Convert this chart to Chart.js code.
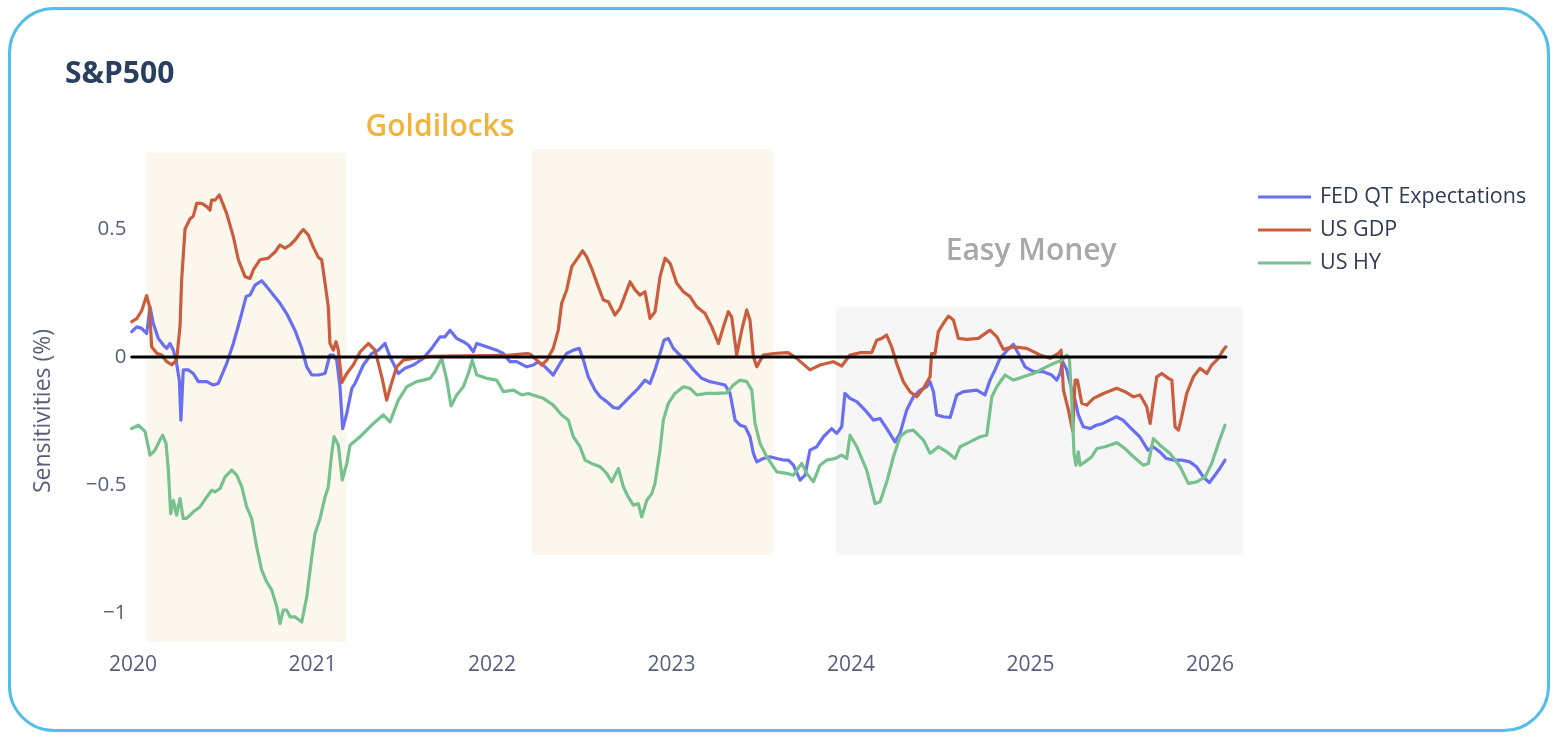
<!DOCTYPE html>
<html><head><meta charset="utf-8">
<script src="https://cdn.jsdelivr.net/npm/chart.js@4.4.1/dist/chart.umd.min.js"></script>
<style>
html,body{margin:0;padding:0;background:#fff;}
#wrap{position:relative;width:1558px;height:742px;overflow:hidden;background:#fff;}
#frame{position:absolute;left:8px;top:7px;width:1536px;height:719px;border:3px solid #56bde6;border-radius:46px;pointer-events:none;}
canvas{position:absolute;left:0;top:0;}
</style></head><body>
<div id="wrap"><canvas id="c" width="1558" height="742"></canvas><div id="frame"></div></div>
<script>
// ---- data (decimal years, sensitivities) ----
const seriesNames = ['FED QT Expectations', 'US GDP', 'US HY'];
const xTickValues = [2020, 2021, 2022, 2023, 2024, 2025, 2026];
const yTickValues = [-1, -0.5, 0, 0.5];

const qtDates = [2019.993,2020.021,2020.048,2020.076,2020.095,2020.113,2020.141,2020.169,2020.188,2020.206,
2020.225,2020.243,2020.258,2020.267,2020.280,2020.308,2020.336,2020.364,2020.411,2020.447,
2020.475,2020.503,2020.522,2020.559,2020.596,2020.630,2020.652,2020.680,2020.717,2020.745,
2020.782,2020.819,2020.856,2020.902,2020.940,2020.968,2020.996,2021.032,2021.070,2021.097,
2021.116,2021.135,2021.153,2021.168,2021.191,2021.219,2021.237,2021.283,2021.330,2021.367,
2021.404,2021.432,2021.478,2021.515,2021.562,2021.617,2021.664,2021.710,2021.738,2021.766,
2021.803,2021.840,2021.868,2021.896,2021.915,2021.970,2022.026,2022.063,2022.100,2022.138,
2022.193,2022.230,2022.258,2022.295,2022.341,2022.379,2022.416,2022.453,2022.486,2022.509,
2022.536,2022.574,2022.602,2022.639,2022.676,2022.704,2022.741,2022.778,2022.815,2022.852,
2022.880,2022.908,2022.936,2022.958,2022.982,2023.010,2023.047,2023.085,2023.122,2023.168,
2023.214,2023.261,2023.298,2023.326,2023.354,2023.382,2023.410,2023.437,2023.456,2023.475,
2023.511,2023.549,2023.586,2023.623,2023.651,2023.679,2023.716,2023.744,2023.771,2023.809,
2023.846,2023.892,2023.920,2023.948,2023.966,2023.994,2024.032,2024.078,2024.124,2024.162,
2024.199,2024.245,2024.273,2024.310,2024.347,2024.384,2024.421,2024.440,2024.459,2024.477,
2024.514,2024.552,2024.589,2024.626,2024.700,2024.746,2024.774,2024.802,2024.830,2024.867,
2024.904,2024.932,2024.969,2025.016,2025.071,2025.118,2025.146,2025.164,2025.179,2025.202,
2025.220,2025.248,2025.266,2025.294,2025.331,2025.366,2025.403,2025.440,2025.478,2025.515,
2025.561,2025.608,2025.654,2025.682,2025.720,2025.757,2025.794,2025.841,2025.887,2025.924,
2025.962,2025.996,2026.027,2026.054,2026.083];
const qtValues = [0.099,0.118,0.112,0.092,0.196,0.131,0.073,0.047,0.034,0.053,
0.027,-0.025,-0.09,-0.246,-0.05,-0.05,-0.064,-0.096,-0.096,-0.109,
-0.103,-0.057,-0.025,0.053,0.145,0.236,0.242,0.281,0.298,0.275,
0.242,0.21,0.17,0.105,0.034,-0.038,-0.07,-0.07,-0.064,0.008,
0.008,-0.012,-0.116,-0.279,-0.22,-0.122,-0.103,-0.031,0.014,0.027,
0.053,0.001,-0.064,-0.044,-0.031,-0.005,0.034,0.079,0.079,0.105,
0.073,0.06,0.047,0.021,0.053,0.04,0.027,0.014,-0.018,-0.018,
-0.038,-0.031,-0.018,-0.038,-0.07,-0.025,0.014,0.027,0.034,-0.012,
-0.077,-0.129,-0.155,-0.174,-0.197,-0.20,-0.174,-0.148,-0.122,-0.09,
-0.103,-0.05,0.014,0.066,0.073,0.034,0.008,-0.018,-0.05,-0.083,
-0.096,-0.103,-0.109,-0.142,-0.246,-0.266,-0.272,-0.311,-0.376,-0.409,
-0.396,-0.389,-0.396,-0.402,-0.402,-0.422,-0.48,-0.461,-0.363,-0.35,
-0.311,-0.279,-0.298,-0.272,-0.142,-0.161,-0.174,-0.207,-0.246,-0.24,
-0.279,-0.331,-0.298,-0.207,-0.155,-0.129,-0.116,-0.096,-0.135,-0.226,
-0.233,-0.236,-0.148,-0.135,-0.129,-0.148,-0.09,-0.05,-0.005,0.024,
0.05,0.014,-0.038,-0.057,-0.057,-0.07,-0.09,-0.064,-0.018,-0.05,
-0.103,-0.168,-0.226,-0.272,-0.279,-0.266,-0.259,-0.246,-0.233,-0.246,
-0.279,-0.311,-0.363,-0.35,-0.37,-0.396,-0.402,-0.402,-0.409,-0.428,
-0.468,-0.49,-0.461,-0.435,-0.402];

const gdpDates = [2019.993,2020.021,2020.048,2020.076,2020.091,2020.104,2020.132,2020.160,2020.188,2020.216,
2020.243,2020.262,2020.271,2020.290,2020.318,2020.336,2020.355,2020.383,2020.411,2020.429,
2020.438,2020.457,2020.481,2020.503,2020.522,2020.559,2020.587,2020.624,2020.652,2020.670,
2020.708,2020.754,2020.791,2020.819,2020.847,2020.875,2020.903,2020.930,2020.949,2020.977,
2021.004,2021.032,2021.051,2021.070,2021.088,2021.097,2021.116,2021.131,2021.144,2021.163,
2021.191,2021.227,2021.265,2021.311,2021.348,2021.386,2021.413,2021.441,2021.469,2021.506,
2021.562,2021.655,2021.822,2021.989,2022.100,2022.193,2022.212,2022.249,2022.277,2022.305,
2022.341,2022.369,2022.388,2022.416,2022.444,2022.481,2022.505,2022.528,2022.555,2022.592,
2022.620,2022.648,2022.685,2022.713,2022.741,2022.769,2022.797,2022.824,2022.852,2022.880,
2022.908,2022.936,2022.964,2022.992,2023.029,2023.066,2023.103,2023.140,2023.187,2023.224,
2023.261,2023.289,2023.316,2023.335,2023.363,2023.391,2023.419,2023.437,2023.456,2023.475,
2023.511,2023.567,2023.651,2023.697,2023.771,2023.827,2023.901,2023.948,2023.994,2024.050,
2024.115,2024.143,2024.171,2024.198,2024.226,2024.254,2024.291,2024.328,2024.366,2024.403,
2024.440,2024.449,2024.468,2024.486,2024.514,2024.542,2024.570,2024.598,2024.644,2024.709,
2024.774,2024.812,2024.848,2024.904,2024.979,2025.053,2025.109,2025.155,2025.170,2025.183,
2025.211,2025.235,2025.248,2025.261,2025.285,2025.313,2025.350,2025.406,2025.480,2025.526,
2025.573,2025.610,2025.647,2025.666,2025.684,2025.703,2025.731,2025.768,2025.787,2025.805,
2025.824,2025.842,2025.870,2025.907,2025.944,2025.982,2026.009,2026.046,2026.073,2026.088];
const gdpValues = [0.138,0.15,0.18,0.24,0.20,0.04,0.015,0.008,-0.018,-0.03,
-0.012,0.12,0.30,0.50,0.54,0.55,0.60,0.60,0.587,0.574,
0.613,0.613,0.633,0.594,0.56,0.47,0.38,0.314,0.307,0.34,
0.38,0.386,0.41,0.4375,0.425,0.4375,0.457,0.483,0.498,0.476,
0.43,0.39,0.38,0.288,0.196,0.054,0.027,0.06,0.027,-0.10,
-0.064,-0.031,0.02,0.053,0.027,-0.077,-0.168,-0.10,-0.038,-0.012,
-0.005,0.003,0.005,0.006,0.008,0.014,0.012,-0.012,-0.031,-0.012,
0.034,0.105,0.21,0.262,0.353,0.39,0.415,0.39,0.346,0.275,
0.223,0.216,0.164,0.19,0.242,0.294,0.262,0.242,0.255,0.151,
0.177,0.314,0.386,0.366,0.288,0.255,0.236,0.196,0.17,0.118,
0.053,0.118,0.177,0.157,0.008,0.105,0.184,0.145,0.001,-0.038,
0.008,0.014,0.017,-0.005,-0.05,-0.031,-0.018,-0.035,0.008,0.017,
0.017,0.066,0.073,0.086,0.04,-0.025,-0.096,-0.135,-0.155,-0.122,
-0.077,0.014,0.014,0.099,0.131,0.16,0.145,0.073,0.069,0.073,
0.105,0.079,0.03,0.04,0.034,0.008,-0.005,0.014,0.027,-0.129,
-0.207,-0.29,-0.09,-0.09,-0.18,-0.1875,-0.161,-0.142,-0.122,-0.135,
-0.155,-0.148,-0.194,-0.259,-0.168,-0.077,-0.064,-0.083,-0.09,-0.272,
-0.285,-0.233,-0.142,-0.077,-0.044,-0.064,-0.031,-0.005,0.027,0.04];

const hyDates = [2019.993,2020.030,2020.067,2020.095,2020.123,2020.150,2020.165,2020.184,2020.197,2020.210,
2020.225,2020.243,2020.262,2020.280,2020.299,2020.336,2020.373,2020.411,2020.438,2020.457,
2020.485,2020.513,2020.550,2020.578,2020.606,2020.633,2020.661,2020.689,2020.717,2020.745,
2020.773,2020.801,2020.819,2020.837,2020.856,2020.875,2020.902,2020.940,2020.968,2020.996,
2021.014,2021.042,2021.070,2021.088,2021.107,2021.120,2021.144,2021.166,2021.191,2021.209,
2021.265,2021.339,2021.394,2021.432,2021.478,2021.525,2021.580,2021.617,2021.655,2021.682,
2021.720,2021.748,2021.772,2021.803,2021.840,2021.868,2021.890,2021.915,2021.970,2022.026,
2022.063,2022.119,2022.165,2022.202,2022.258,2022.286,2022.341,2022.388,2022.425,2022.453,
2022.490,2022.518,2022.555,2022.602,2022.639,2022.667,2022.704,2022.732,2022.759,2022.787,
2022.815,2022.834,2022.862,2022.890,2022.908,2022.936,2022.954,2022.982,2023.019,2023.066,
2023.103,2023.140,2023.196,2023.252,2023.307,2023.344,2023.382,2023.419,2023.447,2023.465,
2023.493,2023.530,2023.586,2023.642,2023.679,2023.725,2023.753,2023.790,2023.827,2023.865,
2023.911,2023.948,2023.976,2023.994,2024.032,2024.087,2024.134,2024.162,2024.199,2024.236,
2024.273,2024.310,2024.347,2024.403,2024.440,2024.486,2024.533,2024.579,2024.607,2024.663,
2024.719,2024.756,2024.784,2024.812,2024.858,2024.904,2024.960,2025.016,2025.071,2025.127,
2025.174,2025.202,2025.216,2025.229,2025.242,2025.253,2025.266,2025.276,2025.303,2025.341,
2025.369,2025.415,2025.480,2025.526,2025.573,2025.628,2025.656,2025.684,2025.721,2025.777,
2025.833,2025.879,2025.926,2025.972,2026.009,2026.046,2026.083];
const hyValues = [-0.279,-0.266,-0.29,-0.383,-0.363,-0.324,-0.305,-0.337,-0.441,-0.611,
-0.559,-0.617,-0.552,-0.63,-0.63,-0.604,-0.585,-0.546,-0.52,-0.526,
-0.513,-0.468,-0.441,-0.461,-0.507,-0.585,-0.63,-0.741,-0.832,-0.878,
-0.91,-0.975,-1.04,-0.988,-0.988,-1.014,-1.014,-1.034,-0.936,-0.78,
-0.689,-0.63,-0.546,-0.507,-0.376,-0.311,-0.344,-0.48,-0.415,-0.344,
-0.311,-0.259,-0.226,-0.253,-0.168,-0.116,-0.096,-0.09,-0.083,-0.057,
-0.005,-0.09,-0.191,-0.148,-0.116,-0.064,-0.012,-0.07,-0.083,-0.09,
-0.135,-0.129,-0.148,-0.142,-0.155,-0.161,-0.1875,-0.226,-0.246,-0.311,
-0.35,-0.402,-0.415,-0.428,-0.454,-0.487,-0.435,-0.507,-0.546,-0.578,
-0.572,-0.624,-0.559,-0.533,-0.493,-0.363,-0.246,-0.181,-0.142,-0.116,
-0.122,-0.148,-0.142,-0.142,-0.14,-0.109,-0.09,-0.096,-0.129,-0.259,
-0.337,-0.389,-0.448,-0.454,-0.461,-0.415,-0.454,-0.487,-0.422,-0.402,
-0.396,-0.383,-0.396,-0.305,-0.35,-0.441,-0.572,-0.565,-0.487,-0.389,
-0.311,-0.29,-0.285,-0.324,-0.376,-0.35,-0.37,-0.396,-0.35,-0.331,
-0.311,-0.305,-0.155,-0.116,-0.07,-0.09,-0.077,-0.064,-0.044,-0.025,
-0.012,0.008,-0.005,-0.168,-0.376,-0.422,-0.37,-0.422,-0.409,-0.389,
-0.357,-0.35,-0.334,-0.357,-0.389,-0.422,-0.415,-0.318,-0.344,-0.376,
-0.428,-0.493,-0.487,-0.468,-0.415,-0.337,-0.266];

// regime boxes
const regionStart  = [2020.078, 2022.223, 2023.916];
const regionEnd    = [2021.187, 2023.565, 2026.184];
const regionTop    = [0.798, 0.812, 0.195];
const regionBottom = [-1.112, -0.773, -0.773];
// regime labels
const labelText = ['Goldilocks', 'Easy Money'];
const labelX = [2021.71, 2025.003];
const labelY = [0.895, 0.413];

// ---- styles ----
const lineColors = ['#6a6ff2', '#c95d3e', '#77c18f'];
const regionColors = ['#fcf7ec', '#fcf7ec', '#f6f6f6'];
const labelColors = ['#f2b33d', '#a8a8a8'];
const FONT = "'Open Sans', 'Noto Sans', sans-serif";
const textColor = '#56607a';

function zip(xs, ys) { const n = Math.min(xs.length, ys.length); const out = []; for (let i = 0; i < n; i++) out.push({x: xs[i], y: ys[i]}); return out; }
const zeroLine = [{x: qtDates[0], y: 0}, {x: gdpDates[gdpDates.length - 1], y: 0}];

const decor = {
  id: 'decor',
  beforeDatasetsDraw(chart) {
    const {ctx, scales: {x, y}} = chart;
    ctx.save();
    for (let i = 0; i < regionStart.length; i++) {
      const x0 = x.getPixelForValue(regionStart[i]), x1 = x.getPixelForValue(regionEnd[i]);
      const y0 = y.getPixelForValue(regionTop[i]), y1 = y.getPixelForValue(regionBottom[i]);
      ctx.fillStyle = regionColors[i];
      ctx.fillRect(x0, y0, x1 - x0, y1 - y0);
    }
    ctx.restore();
  },
  afterDraw(chart) {
    const {ctx, scales: {x, y}} = chart;
    ctx.save();
    // regime labels
    ctx.font = "600 30px " + FONT;
    ctx.textAlign = 'center';
    ctx.textBaseline = 'middle';
    for (let i = 0; i < labelText.length; i++) {
      ctx.fillStyle = labelColors[i];
      ctx.fillText(labelText[i], x.getPixelForValue(labelX[i]), y.getPixelForValue(labelY[i]));
    }
    // title
    ctx.font = "bold 30px " + FONT;
    ctx.textAlign = 'left';
    ctx.textBaseline = 'alphabetic';
    ctx.fillStyle = '#2a3f5f';
    ctx.fillText('S&P500', 65, 83);
    // y axis title
    ctx.save();
    ctx.translate(43, 411);
    ctx.rotate(-Math.PI / 2);
    ctx.font = "23px " + FONT;
    ctx.fillStyle = textColor;
    ctx.textAlign = 'center';
    ctx.textBaseline = 'middle';
    ctx.fillText('Sensitivities (%)', 0, 0);
    ctx.restore();
    // legend
    ctx.font = "21.5px " + FONT;
    ctx.textAlign = 'left';
    ctx.textBaseline = 'middle';
    for (let i = 0; i < seriesNames.length; i++) {
      const ly = 197 + i * 33;
      ctx.strokeStyle = lineColors[i];
      ctx.lineWidth = 3;
      ctx.beginPath(); ctx.moveTo(1258, ly); ctx.lineTo(1311, ly); ctx.stroke();
      ctx.fillStyle = '#2e3b52';
      ctx.fillText(seriesNames[i], 1320, ly);
    }
    ctx.restore();
  }
};

new Chart(document.getElementById('c'), {
  type: 'line',
  data: {
    datasets: [
      {label: 'zero', data: zeroLine, borderColor: '#000', borderWidth: 3, pointRadius: 0, order: 0},
      {label: seriesNames[2], data: zip(hyDates, hyValues), borderColor: lineColors[2], borderWidth: 3.2, pointRadius: 0, order: 1},
      {label: seriesNames[1], data: zip(gdpDates, gdpValues), borderColor: lineColors[1], borderWidth: 3.2, pointRadius: 0, order: 2},
      {label: seriesNames[0], data: zip(qtDates, qtValues), borderColor: lineColors[0], borderWidth: 3.2, pointRadius: 0, order: 3}
    ]
  },
  options: {
    responsive: false,
    animation: false,
    devicePixelRatio: 1,
    layout: {padding: {left: 29.4, right: 312, top: 147, bottom: 58}},
    plugins: {legend: {display: false}, tooltip: {enabled: false}},
    elements: {line: {tension: 0, borderJoinStyle: 'round', borderCapStyle: 'round'}},
    scales: {
      x: {
        type: 'linear', min: 2019.98, max: 2026.2,
        grid: {display: false, drawTicks: false}, border: {display: false},
        afterBuildTicks: s => { s.ticks = xTickValues.map(v => ({value: v})); },
        afterFit: s => { s.height = 40; },
        ticks: {font: {family: FONT, size: 21}, color: textColor, padding: 8, maxRotation: 0, autoSkip: false,
                callback: v => String(v)}
      },
      y: {
        type: 'linear', min: -1.12, max: 0.82,
        grid: {display: false, drawTicks: false}, border: {display: false},
        afterBuildTicks: s => { s.ticks = yTickValues.map(v => ({value: v})); },
        afterFit: s => { s.width = 100; },
        ticks: {font: {family: FONT, size: 20.5}, color: textColor, padding: 3,
                callback: v => (v < 0 ? '\u2212' + Math.abs(v) : String(v))}
      }
    }
  },
  plugins: [decor]
});
</script>
</body></html>
